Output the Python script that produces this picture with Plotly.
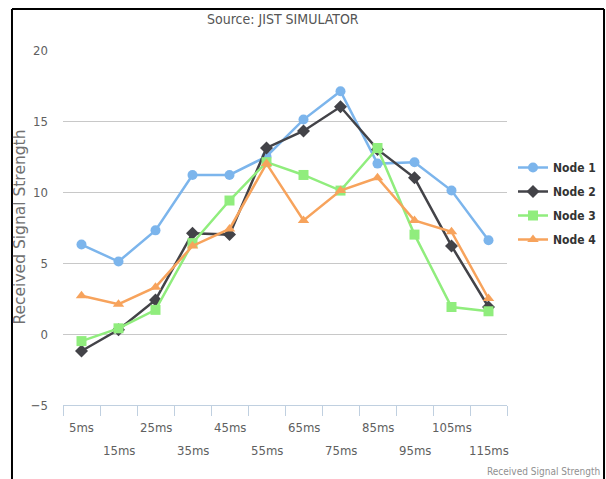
import plotly.graph_objects as go

categories = ["5ms", "15ms", "25ms", "35ms", "45ms", "55ms", "65ms", "75ms", "85ms", "95ms", "105ms", "115ms"]
node1 = [6.3, 5.1, 7.3, 11.2, 11.2, 12.5, 15.1, 17.1, 12.0, 12.1, 10.1, 6.6]
node2 = [-1.2, 0.3, 2.4, 7.1, 7.0, 13.1, 14.3, 16.0, 13.0, 11.0, 6.2, 1.9]
node3 = [-0.5, 0.4, 1.7, 6.4, 9.4, 12.1, 11.2, 10.1, 13.1, 7.0, 1.9, 1.6]
node4 = [2.7, 2.1, 3.3, 6.2, 7.4, 12.0, 8.0, 10.1, 11.0, 8.0, 7.2, 2.5]

series_names = ["Node 1", "Node 2", "Node 3", "Node 4"]
series_values = [node1, node2, node3, node4]
colors = ["#7cb5ec", "#434348", "#90ed7d", "#f7a35c"]
symbols = ["circle", "diamond", "square", "triangle-up"]
y_ticks = [-5, 0, 5, 10, 15, 20]

title_text = "Source: JIST SIMULATOR"
y_title = "Received Signal Strength"
credit_text = "Received Signal Strength"

NARROW = "Liberation Sans Narrow, DejaVu Sans Condensed, Arial Narrow, sans-serif"

fig = go.Figure()
for i, (name, vals) in enumerate(zip(series_names, series_values)):
    fig.add_trace(go.Scatter(
        x=categories, y=vals, name=name, mode="lines+markers",
        line=dict(color=colors[i], width=2.5),
        marker=dict(symbol=symbols[i], size=10, color=colors[i]),
        legendgroup=name,
    ))

annotations = []
for i, c in enumerate(categories):
    annotations.append(dict(
        x=c, xref="x", y=-0.062 if i % 2 == 0 else -0.127, yref="paper",
        text=c, showarrow=False, xanchor="center", yanchor="middle",
        font=dict(family=NARROW, size=13, color="#606060"),
    ))
annotations.append(dict(
    x=0.4955, y=1.087, xref="paper", yref="paper", text=title_text,
    showarrow=False, xanchor="center", yanchor="middle",
    font=dict(family=NARROW, size=14, color="#555555"),
))
annotations.append(dict(
    x=-0.099, y=0.5, xref="paper", yref="paper", text=y_title, textangle=-90,
    showarrow=False, xanchor="center", yanchor="middle",
    font=dict(family="DejaVu Sans, sans-serif", size=15.5, color="#707070"),
))
annotations.append(dict(
    x=1.214, y=-0.187, xref="paper", yref="paper", text=credit_text,
    showarrow=False, xanchor="right", yanchor="middle",
    font=dict(family=NARROW, size=10, color="#909090"),
))

shapes = [
    dict(type="line", xref="paper", yref="paper", x0=-0.1149, x1=-0.1149, y0=1.1155, y1=-0.25,
         line=dict(color="black", width=2)),
    dict(type="line", xref="paper", yref="paper", x0=-0.1149, x1=1.2185, y0=1.1155, y1=1.1155,
         line=dict(color="black", width=2)),
    dict(type="line", xref="paper", yref="paper", x0=1.2185, x1=1.2185, y0=1.1155, y1=-0.25,
         line=dict(color="black", width=2)),
]

fig.update_layout(
    width=606, height=479,
    margin=dict(l=63, r=99, t=50, b=74, autoexpand=False),
    paper_bgcolor="white", plot_bgcolor="white",
    showlegend=True,
    legend=dict(
        x=1.0135, xanchor="left", y=0.5676, yanchor="middle",
        font=dict(family=NARROW, size=12, color="#333333", weight="bold"),
        tracegroupgap=5, bgcolor="rgba(0,0,0,0)",
    ),
    annotations=annotations,
    shapes=shapes,
)
fig.update_xaxes(
    type="category", tickson="boundaries", ticks="outside", ticklen=10,
    tickcolor="#C0D0E0", showline=True, linecolor="#C0D0E0", linewidth=1,
    showgrid=False, showticklabels=False, range=[-0.5, len(categories) - 0.5],
)
fig.update_yaxes(
    range=[-5, 20], tickvals=y_ticks, showgrid=True, gridcolor="#c8c8c8", gridwidth=1,
    zeroline=False, showline=False, ticklabelstandoff=14,
    tickfont=dict(family=NARROW, size=13, color="#606060"),
)

fig.write_html("out.html", config={"displayModeBar": False},
               post_script="document.body.style.margin='0px';document.body.style.overflow='hidden';")
